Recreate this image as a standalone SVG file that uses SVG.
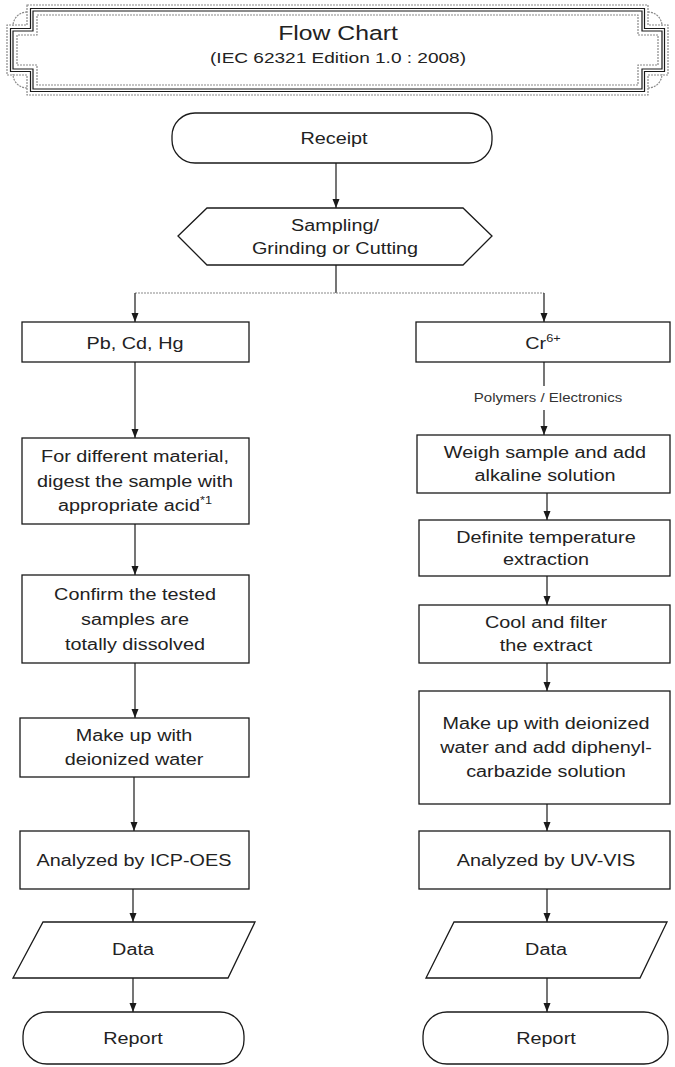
<svg xmlns="http://www.w3.org/2000/svg" width="675" height="1067" viewBox="0 0 675 1067">
<style>
.bg{fill:#fff}
.box{fill:#fff;stroke:#1a1a1a;stroke-width:1.3}
.t{font-family:"Liberation Sans",Arial,sans-serif;font-size:15.6px;fill:#222;text-anchor:middle}
.sm{font-family:"Liberation Sans",Arial,sans-serif;font-size:12px;fill:#333;text-anchor:middle}
.ttl{font-family:"Liberation Sans",Arial,sans-serif;font-size:19.5px;fill:#222;text-anchor:middle}
.sub{font-family:"Liberation Sans",Arial,sans-serif;font-size:15px;fill:#222;text-anchor:middle}
.fk{fill:none;stroke:#1a1a1a;stroke-width:1.2}
.fg{fill:none;stroke:#8a8a8a;stroke-width:1.2;stroke-dasharray:2 1}
.c{fill:none;stroke:#1a1a1a;stroke-width:1.2}
.cg{fill:none;stroke:#8a8a8a;stroke-width:1.2;stroke-dasharray:2 1}
</style>
<defs>
<marker id="ah" markerUnits="userSpaceOnUse" markerWidth="9" markerHeight="8" refX="9" refY="3.5" orient="auto">
<path d="M0,0 L9,3.5 L0,7 Z" fill="#1a1a1a"/>
</marker>
</defs>
<rect class="bg" x="0" y="0" width="675" height="1067"/>

<g id="title">
<path class="fg" d="M27,5 H648 V25 H668 V75 H648 V95 H27 V75 H7 V25 H27 Z"/>
<path class="fk" d="M30.5,8.5 H644.5 V28.5 H664.5 V71.5 H644.5 V91.5 H30.5 V71.5 H10.5 V28.5 H30.5 Z"/>
<path class="fk" d="M33,11 H642 V31 H662 V69 H642 V89 H33 V69 H13 V31 H33 Z"/>
<path class="fg" d="M37,15 H638 V35 H658 V65 H638 V85 H37 V65 H17 V35 H37 Z"/>
<path class="fg" d="M27,12 A14,14 0 0 0 13,26 M27,88 A14,14 0 0 1 13,74 M648,12 A14,14 0 0 1 662,26 M648,88 A14,14 0 0 0 662,74"/>
<text class="ttl" transform="translate(338,40) scale(1.27,1)">Flow Chart</text>
<text class="sub" transform="translate(338,63) scale(1.27,1)">(IEC 62321 Edition 1.0 : 2008)</text>
</g>

<g id="connectors">
<line class="c" x1="336" y1="163" x2="336" y2="208" marker-end="url(#ah)"/>
<line class="c" x1="336" y1="265" x2="336" y2="293"/>
<line class="cg" x1="135" y1="293" x2="544" y2="293"/>
<line class="c" x1="135" y1="293" x2="135" y2="322" marker-end="url(#ah)"/>
<line class="c" x1="544" y1="293" x2="544" y2="322" marker-end="url(#ah)"/>
<line class="c" x1="135" y1="362" x2="135" y2="438" marker-end="url(#ah)"/>
<line class="c" x1="135" y1="524" x2="135" y2="575" marker-end="url(#ah)"/>
<line class="c" x1="135" y1="663" x2="135" y2="718" marker-end="url(#ah)"/>
<line class="c" x1="134" y1="777" x2="134" y2="831" marker-end="url(#ah)"/>
<line class="c" x1="133" y1="889" x2="133" y2="922" marker-end="url(#ah)"/>
<line class="c" x1="133" y1="978" x2="133" y2="1012" marker-end="url(#ah)"/>
<line class="c" x1="544" y1="362" x2="544" y2="386"/>
<line class="c" x1="544" y1="410" x2="544" y2="435" marker-end="url(#ah)"/>
<line class="c" x1="547" y1="493" x2="547" y2="520" marker-end="url(#ah)"/>
<line class="c" x1="547" y1="576" x2="547" y2="605" marker-end="url(#ah)"/>
<line class="c" x1="547" y1="663" x2="547" y2="691" marker-end="url(#ah)"/>
<line class="c" x1="547" y1="804" x2="547" y2="831" marker-end="url(#ah)"/>
<line class="c" x1="547" y1="889" x2="547" y2="922" marker-end="url(#ah)"/>
<line class="c" x1="547" y1="978" x2="547" y2="1012" marker-end="url(#ah)"/>
<text class="sm" transform="translate(548,402) scale(1.25,1)">Polymers / Electronics</text>
</g>

<g id="receipt">
<rect class="box" x="172" y="113" width="320" height="50" rx="23" ry="23"/>
<text class="t" transform="translate(334,143.5) scale(1.27,1)">Receipt</text>
</g>

<g id="sampling">
<polygon class="box" points="178,236 207,208 463,208 492,236 463,265 207,265"/>
<text class="t" transform="translate(335,230.5) scale(1.27,1)">Sampling/</text>
<text class="t" transform="translate(335,253.5) scale(1.27,1)">Grinding or Cutting</text>
</g>

<g id="pbcdhg">
<rect class="box" x="22" y="322" width="227" height="40"/>
<text class="t" transform="translate(135,348.5) scale(1.27,1)">Pb, Cd, Hg</text>
</g>

<g id="cr6">
<rect class="box" x="416" y="322" width="254" height="40"/>
<text class="t" transform="translate(543,348.5) scale(1.27,1)">Cr<tspan font-size="10" dy="-7">6+</tspan></text>
</g>

<g id="digest">
<rect class="box" x="22" y="438" width="227" height="86"/>
<text class="t" transform="translate(135,461.5) scale(1.27,1)">For different material,</text>
<text class="t" transform="translate(135,486.5) scale(1.27,1)">digest the sample with</text>
<text class="t" transform="translate(135,510.5) scale(1.27,1)">appropriate acid<tspan font-size="10" dy="-7">*1</tspan></text>
</g>

<g id="confirm">
<rect class="box" x="22" y="575" width="227" height="88"/>
<text class="t" transform="translate(135,599.5) scale(1.27,1)">Confirm the tested</text>
<text class="t" transform="translate(135,624.5) scale(1.27,1)">samples are</text>
<text class="t" transform="translate(135,649.5) scale(1.27,1)">totally dissolved</text>
</g>

<g id="makeup-left">
<rect class="box" x="20" y="718" width="229" height="59"/>
<text class="t" transform="translate(134,741) scale(1.27,1)">Make up with</text>
<text class="t" transform="translate(134,765) scale(1.27,1)">deionized water</text>
</g>

<g id="icp">
<rect class="box" x="20" y="831" width="229" height="58"/>
<text class="t" transform="translate(134,865.5) scale(1.27,1)">Analyzed by ICP-OES</text>
</g>

<g id="data-left">
<polygon class="box" points="43,922 255,922 228,978 13,978"/>
<text class="t" transform="translate(133,955) scale(1.27,1)">Data</text>
</g>

<g id="report-left">
<rect class="box" x="23" y="1012" width="221" height="52" rx="24" ry="24"/>
<text class="t" transform="translate(133,1043.5) scale(1.27,1)">Report</text>
</g>

<g id="weigh">
<rect class="box" x="417" y="435" width="253" height="58"/>
<text class="t" transform="translate(545,457.5) scale(1.27,1)">Weigh sample and add</text>
<text class="t" transform="translate(545,480.5) scale(1.27,1)">alkaline solution</text>
</g>

<g id="definite">
<rect class="box" x="419" y="520" width="251" height="56"/>
<text class="t" transform="translate(546,542.5) scale(1.27,1)">Definite temperature</text>
<text class="t" transform="translate(546,564.5) scale(1.27,1)">extraction</text>
</g>

<g id="cool">
<rect class="box" x="419" y="605" width="251" height="58"/>
<text class="t" transform="translate(546,627.5) scale(1.27,1)">Cool and filter</text>
<text class="t" transform="translate(546,650.5) scale(1.27,1)">the extract</text>
</g>

<g id="makeup-right">
<rect class="box" x="419" y="691" width="251" height="113"/>
<text class="t" transform="translate(546,728.5) scale(1.27,1)">Make up with deionized</text>
<text class="t" transform="translate(546,752.5) scale(1.27,1)">water and add diphenyl-</text>
<text class="t" transform="translate(546,776.5) scale(1.27,1)">carbazide solution</text>
</g>

<g id="uvvis">
<rect class="box" x="419" y="831" width="251" height="58"/>
<text class="t" transform="translate(546,865.5) scale(1.27,1)">Analyzed by UV-VIS</text>
</g>

<g id="data-right">
<polygon class="box" points="454,922 667,922 640,978 426,978"/>
<text class="t" transform="translate(546,955) scale(1.27,1)">Data</text>
</g>

<g id="report-right">
<rect class="box" x="423" y="1012" width="245" height="52" rx="24" ry="24"/>
<text class="t" transform="translate(546,1043.5) scale(1.27,1)">Report</text>
</g>
</svg>
